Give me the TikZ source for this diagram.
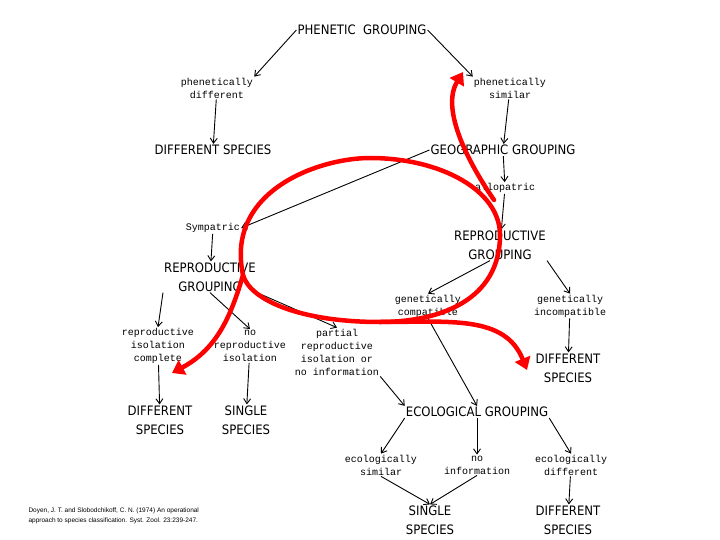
\documentclass[tikz,border=0pt]{standalone}
\usepackage{fontspec}
\setmainfont{Liberation Mono}
\newfontfamily\titlefont{DejaVu Sans Condensed}
\newfontfamily\citefont{Liberation Sans}
\usetikzlibrary{arrows.meta}
\begin{document}
\begin{tikzpicture}[x=1pt,y=-1pt,
  lab/.style={font=\fontsize{10}{13}\selectfont,align=center,inner sep=1pt},
  ttl/.style={font=\titlefont\fontsize{13}{19}\selectfont,align=center,inner sep=1pt},
  ar/.style={-{Straight Barb[length=5pt,width=7pt]},line width=0.9pt},
  red/.style={draw=red,line width=4.5pt,line cap=round},
  rar/.style={red,-{Triangle[length=12pt,width=16pt]}}]
\useasboundingbox (0,0) rectangle (720,540);
\node[ttl] (pg) at (362,30) {PHENETIC\ \ GROUPING};
\node[lab] (pd) at (217,88) {phenetically\\different};
\node[lab] (ps) at (510,88) {phenetically\\similar};
\node[ttl] (ds1) at (213,150) {DIFFERENT SPECIES};
\node[ttl] (gg) at (503,150) {GEOGRAPHIC GROUPING};
\node[lab] (al) at (505,188) {allopatric};
\node[lab] (sy) at (213,228) {Sympatric};
\node[ttl] (rgr) at (500,245) {REPRODUCTIVE\\GROUPING};
\node[ttl] (rgl) at (210,277) {REPRODUCTIVE\\GROUPING};
\node[lab] (gc) at (428,306) {genetically\\compatible};
\node[lab] (gi) at (570,306) {genetically\\incompatible};
\node[lab] (ri) at (158,346) {reproductive\\isolation\\complete};
\node[lab] (nr) at (250,346) {no\\reproductive\\isolation};
\node[lab] (pr) at (337,352) {partial\\reproductive\\isolation or\\no information};
\node[ttl] (ds2) at (568,368) {DIFFERENT\\SPECIES};
\node[ttl] (eg) at (477,412) {ECOLOGICAL GROUPING};
\node[ttl] (ds3) at (160,420) {DIFFERENT\\SPECIES};
\node[ttl] (ss1) at (246,420) {SINGLE\\SPECIES};
\node[lab] (es) at (381,465) {ecologically\\similar};
\node[lab] (ni) at (477,465) {no\\information};
\node[lab] (ed) at (571,465) {ecologically\\different};
\node[ttl] (ss2) at (430,520) {SINGLE\\SPECIES};
\node[ttl] (ds4) at (568,520) {DIFFERENT\\SPECIES};
\node[font=\citefont\fontsize{6.5}{10}\selectfont,align=left,anchor=west] (cite) at (25,516) {Doyen, J. T. and Slobodchikoff, C. N. (1974) An operational\\approach to species classification. Syst. Zool. 23:239-247.};

\draw[ar] (pg.west) -- (pd.north east);
\draw[ar] (pg.east) -- (ps.north west);
\draw[ar] (pd) -- (ds1);
\draw[ar] (ps) -- (gg);
\draw[ar] (gg.west) -- (sy.east);
\draw[ar] (gg) -- (al);
\draw[ar] (al) -- (rgr);
\draw[ar] (rgr.south) ++(-10,0) coordinate (r1) (r1) -- (gc.north);
\draw[ar] (rgr.south east) -- (gi.north);
\draw[ar] (gi) -- (ds2);
\draw[ar] (gc.south) -- (eg.north);
\draw[ar] (sy) -- (rgl);
\draw[ar] (rgl.south west) -- (ri.north);
\draw[ar] (rgl.south) -- (nr.north);
\draw[ar] (rgl.south east) -- (pr.north);
\draw[ar] (pr.south east) -- (eg.north west);
\draw[ar] (ri) -- (ds3);
\draw[ar] (nr) -- (ss1);
\draw[ar] (eg.south west) -- (es.north);
\draw[ar] (eg) -- (ni);
\draw[ar] (eg.south east) -- (ed.north);
\draw[ar] (es.south) -- (ss2.north);
\draw[ar] (ni.south) -- (ss2.north);
\draw[ar] (ed) -- (ds4);

\coordinate (t1) at (172,373);
\coordinate (t2) at (463,72);
\coordinate (t3) at (527,370);
\draw[rar] (243,275) .. controls (230,320) and (215,350) .. (t1);
\draw[red] (243,275) .. controls (225,190) and (320,158) .. (370,158)
  .. controls (440,158) and (500,190) .. (500,235)
  .. controls (500,300) and (440,322) .. (380,322)
  .. controls (300,322) and (250,300) .. (243,275);
\draw[rar] (494,200) .. controls (470,165) and (440,110) .. (t2);
\draw[rar] (380,322) .. controls (450,322) and (505,315) .. (t3);
\end{tikzpicture}
\end{document}
